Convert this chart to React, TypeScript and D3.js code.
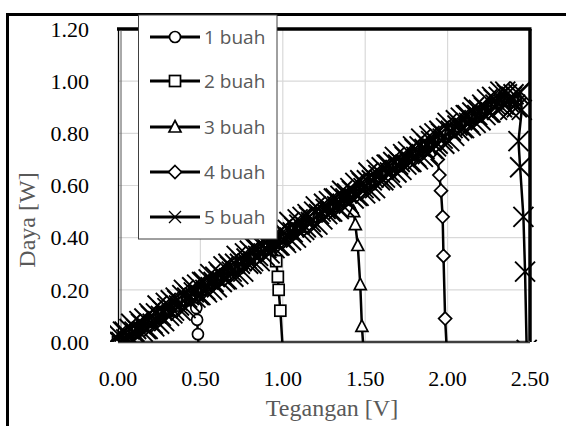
import React from "react";
import * as d3 from "d3";

const xTicks = [0, 0.5, 1.0, 1.5, 2.0, 2.5];
const yTicks = [0, 0.2, 0.4, 0.6, 0.8, 1.0, 1.2];
const seriesNames = ["1 buah", "2 buah", "3 buah", "4 buah", "5 buah"];
const markerTypes = ["circle", "square", "triangle", "diamond", "cross"];

const v1 = [0.00, 0.05, 0.10, 0.15, 0.20, 0.25, 0.30, 0.35, 0.40, 0.45, 0.47, 0.475, 0.48, 0.485, 0.49];
const p1 = [0.00, 0.02, 0.04, 0.06, 0.08, 0.10, 0.12, 0.14, 0.16, 0.18, 0.17, 0.13, 0.085, 0.03, -0.03];

const v2 = [0.00, 0.05, 0.10, 0.15, 0.20, 0.25, 0.30, 0.35, 0.40, 0.45, 0.50, 0.55, 0.60, 0.65, 0.70, 0.75, 0.80, 0.85, 0.90, 0.95, 0.96, 0.97, 0.975, 0.985, 1.00];
const p2 = [0.00, 0.02, 0.04, 0.06, 0.08, 0.10, 0.12, 0.14, 0.16, 0.18, 0.20, 0.22, 0.24, 0.26, 0.28, 0.30, 0.32, 0.34, 0.36, 0.38, 0.31, 0.25, 0.20, 0.12, -0.03];

const v3 = [0.00, 0.10, 0.20, 0.30, 0.40, 0.50, 0.60, 0.70, 0.80, 0.90, 1.00, 1.10, 1.20, 1.30, 1.40, 1.43, 1.44, 1.455, 1.47, 1.48, 1.49];
const p3 = [0.00, 0.04, 0.08, 0.12, 0.16, 0.20, 0.24, 0.28, 0.32, 0.36, 0.40, 0.44, 0.48, 0.52, 0.56, 0.50, 0.45, 0.37, 0.22, 0.06, -0.03];

const v4 = [0.00, 0.10, 0.20, 0.30, 0.40, 0.50, 0.60, 0.70, 0.80, 0.90, 1.00, 1.10, 1.20, 1.30, 1.40, 1.50, 1.60, 1.70, 1.80, 1.90, 1.94, 1.95, 1.96, 1.97, 1.975, 1.985, 1.995];
const p4 = [0.00, 0.04, 0.08, 0.12, 0.16, 0.20, 0.24, 0.28, 0.32, 0.36, 0.40, 0.44, 0.48, 0.52, 0.56, 0.60, 0.64, 0.68, 0.72, 0.76, 0.70, 0.64, 0.58, 0.48, 0.33, 0.09, -0.03];

const v5 = [
  0.00, 0.01, 0.02, 0.03, 0.04, 0.05, 0.06, 0.07, 0.08, 0.09,
  0.10, 0.11, 0.12, 0.13, 0.14, 0.15, 0.16, 0.17, 0.18, 0.19,
  0.20, 0.21, 0.22, 0.23, 0.24, 0.25, 0.26, 0.27, 0.28, 0.29,
  0.30, 0.31, 0.32, 0.33, 0.34, 0.35, 0.36, 0.37, 0.38, 0.39,
  0.40, 0.41, 0.42, 0.43, 0.44, 0.45, 0.46, 0.47, 0.48, 0.49,
  0.50, 0.51, 0.52, 0.53, 0.54, 0.55, 0.56, 0.57, 0.58, 0.59,
  0.60, 0.61, 0.62, 0.63, 0.64, 0.65, 0.66, 0.67, 0.68, 0.69,
  0.70, 0.71, 0.72, 0.73, 0.74, 0.75, 0.76, 0.77, 0.78, 0.79,
  0.80, 0.81, 0.82, 0.83, 0.84, 0.85, 0.86, 0.87, 0.88, 0.89,
  0.90, 0.91, 0.92, 0.93, 0.94, 0.95, 0.96, 0.97, 0.98, 0.99,
  1.00, 1.01, 1.02, 1.03, 1.04, 1.05, 1.06, 1.07, 1.08, 1.09,
  1.10, 1.11, 1.12, 1.13, 1.14, 1.15, 1.16, 1.17, 1.18, 1.19,
  1.20, 1.21, 1.22, 1.23, 1.24, 1.25, 1.26, 1.27, 1.28, 1.29,
  1.30, 1.31, 1.32, 1.33, 1.34, 1.35, 1.36, 1.37, 1.38, 1.39,
  1.40, 1.41, 1.42, 1.43, 1.44, 1.45, 1.46, 1.47, 1.48, 1.49,
  1.50, 1.51, 1.52, 1.53, 1.54, 1.55, 1.56, 1.57, 1.58, 1.59,
  1.60, 1.61, 1.62, 1.63, 1.64, 1.65, 1.66, 1.67, 1.68, 1.69,
  1.70, 1.71, 1.72, 1.73, 1.74, 1.75, 1.76, 1.77, 1.78, 1.79,
  1.80, 1.81, 1.82, 1.83, 1.84, 1.85, 1.86, 1.87, 1.88, 1.89,
  1.90, 1.91, 1.92, 1.93, 1.94, 1.95, 1.96, 1.97, 1.98, 1.99,
  2.00, 2.01, 2.02, 2.03, 2.04, 2.05, 2.06, 2.07, 2.08, 2.09,
  2.10, 2.11, 2.12, 2.13, 2.14, 2.15, 2.16, 2.17, 2.18, 2.19,
  2.20, 2.21, 2.22, 2.23, 2.24, 2.25, 2.26, 2.27, 2.28, 2.29,
  2.30, 2.31, 2.32, 2.33, 2.34, 2.35, 2.36, 2.37, 2.38, 2.39,
  2.40, 2.41, 2.42, 2.43, 2.44,
  2.45, 2.43, 2.44, 2.46, 2.47, 2.48,
];
const p5 = [
  0.03, 0.00, 0.00, 0.04, 0.04, 0.01, 0.00, 0.05, 0.07, 0.01,
  0.04, 0.05, 0.02, 0.08, 0.07, 0.04, 0.09, 0.05, 0.05, 0.11,
  0.10, 0.07, 0.06, 0.11, 0.14, 0.07, 0.10, 0.12, 0.08, 0.15,
  0.13, 0.10, 0.16, 0.11, 0.12, 0.17, 0.16, 0.14, 0.12, 0.18,
  0.20, 0.13, 0.17, 0.18, 0.15, 0.21, 0.19, 0.17, 0.22, 0.18,
  0.18, 0.23, 0.23, 0.20, 0.19, 0.24, 0.26, 0.20, 0.23, 0.25,
  0.21, 0.27, 0.26, 0.23, 0.29, 0.24, 0.24, 0.30, 0.29, 0.27,
  0.25, 0.30, 0.33, 0.26, 0.30, 0.31, 0.27, 0.34, 0.32, 0.30,
  0.35, 0.30, 0.31, 0.36, 0.36, 0.33, 0.31, 0.37, 0.39, 0.33,
  0.36, 0.37, 0.34, 0.40, 0.39, 0.36, 0.41, 0.37, 0.37, 0.43,
  0.42, 0.39, 0.38, 0.43, 0.46, 0.39, 0.42, 0.44, 0.40, 0.47,
  0.45, 0.42, 0.48, 0.43, 0.44, 0.49, 0.48, 0.46, 0.44, 0.50,
  0.52, 0.45, 0.49, 0.50, 0.47, 0.53, 0.51, 0.49, 0.54, 0.50,
  0.50, 0.55, 0.55, 0.52, 0.51, 0.56, 0.58, 0.52, 0.55, 0.57,
  0.53, 0.59, 0.58, 0.55, 0.61, 0.56, 0.56, 0.62, 0.61, 0.59,
  0.57, 0.62, 0.65, 0.58, 0.62, 0.63, 0.59, 0.66, 0.64, 0.62,
  0.67, 0.62, 0.63, 0.68, 0.68, 0.65, 0.63, 0.69, 0.71, 0.65,
  0.68, 0.69, 0.66, 0.72, 0.71, 0.68, 0.73, 0.69, 0.69, 0.75,
  0.74, 0.71, 0.70, 0.75, 0.78, 0.71, 0.74, 0.76, 0.72, 0.79,
  0.77, 0.74, 0.80, 0.75, 0.76, 0.81, 0.80, 0.78, 0.76, 0.82,
  0.84, 0.77, 0.81, 0.82, 0.79, 0.85, 0.83, 0.81, 0.86, 0.82,
  0.82, 0.87, 0.87, 0.84, 0.83, 0.88, 0.90, 0.84, 0.87, 0.89,
  0.85, 0.91, 0.90, 0.87, 0.93, 0.88, 0.88, 0.94, 0.93, 0.91,
  0.89, 0.94, 0.96, 0.90, 0.91, 0.96, 0.95, 0.92, 0.89, 0.94,
  0.95, 0.91, 0.90, 0.95, 0.96,
  0.89, 0.77, 0.67, 0.48, 0.27, -0.03,
];

const seriesV = [v1, v2, v3, v4, v5];
const seriesP = [p1, p2, p3, p4, p5];

const W = 566;
const H = 426;
const x = d3.scaleLinear().domain([0, 2.5]).range([118, 530]);
const y = d3.scaleLinear().domain([0, 1.2]).range([342, 29]);

const serif = "'Liberation Serif', 'Times New Roman', serif";

function Marker({ type, cx, cy }: { type: string; cx: number; cy: number }) {
  const common = { fill: "white", stroke: "black", strokeWidth: 1.7 };
  if (type === "circle") return <circle cx={cx} cy={cy} r={5.5} {...common} />;
  if (type === "square") return <rect x={cx - 5.5} y={cy - 5.5} width={11} height={11} {...common} />;
  if (type === "triangle")
    return <path d={`M${cx},${cy - 6.5}L${cx + 6},${cy + 5}L${cx - 6},${cy + 5}Z`} {...common} />;
  if (type === "diamond")
    return <path d={`M${cx},${cy - 6.5}L${cx + 6.5},${cy}L${cx},${cy + 6.5}L${cx - 6.5},${cy}Z`} {...common} />;
  return (
    <path
      d={`M${cx - 10},${cy - 10}L${cx + 10},${cy + 10}M${cx - 10},${cy + 10}L${cx + 10},${cy - 10}`}
      stroke="black"
      strokeWidth={1.9}
      fill="none"
    />
  );
}

function LegendMarker({ type, cx, cy }: { type: string; cx: number; cy: number }) {
  if (type === "cross")
    return (
      <path
        d={`M${cx - 6},${cy - 6}L${cx + 6},${cy + 6}M${cx - 6},${cy + 6}L${cx + 6},${cy - 6}`}
        stroke="black"
        strokeWidth={1.3}
        fill="none"
      />
    );
  return <Marker type={type} cx={cx} cy={cy} />;
}

export default function App() {
  const paths = seriesV.map(
    (vs, s) =>
      d3
        .line<number>()
        .x((v) => x(v))
        .y((_, i) => y(seriesP[s][i]))(vs) as string
  );
  const legendY = [37, 81, 127, 172, 217];
  return (
    <svg width={W} height={H} style={{ position: "absolute", left: 0, top: 0, background: "white" }}>
      <defs>
        <clipPath id="plotclip">
          <rect x={110} y={0} width={428} height={342} />
        </clipPath>
      </defs>
      <rect x={0} y={0} width={W} height={H} fill="white" />
      <rect x={7.5} y={14.5} width={700} height={600} fill="none" stroke="black" strokeWidth={3} />
      {yTicks.slice(1, -1).map((t) => (
        <line key={"gy" + t} x1={x(0)} x2={x(2.5)} y1={y(t)} y2={y(t)} stroke="#d9d9d9" strokeWidth={1.2} />
      ))}
      {xTicks.slice(1, -1).map((t) => (
        <line key={"gx" + t} x1={x(t)} x2={x(t)} y1={y(0)} y2={y(1.2)} stroke="#d9d9d9" strokeWidth={1.2} />
      ))}
      <line x1={x(0) - 1} x2={x(2.5) + 1.5} y1={y(1.2)} y2={y(1.2)} stroke="black" strokeWidth={3.5} />
      <line x1={x(2.5)} x2={x(2.5)} y1={y(1.2)} y2={y(0)} stroke="black" strokeWidth={3.5} />
      <line x1={x(0) + 0.5} x2={x(0) + 0.5} y1={y(1.2)} y2={y(0)} stroke="black" strokeWidth={1.3} />
      <line x1={x(0) + 3} x2={x(0) + 3} y1={y(1.2) + 1} y2={y(0)} stroke="#555" strokeWidth={1} />
      <line x1={x(0)} x2={x(2.5)} y1={y(0)} y2={y(0)} stroke="#404040" strokeWidth={2.5} />
      <g clipPath="url(#plotclip)">
        {seriesV.map((vs, s) => (
          <g key={"s" + s}>
            <path d={paths[s]} fill="none" stroke="black" strokeWidth={2.5} strokeLinejoin="round" />
            {vs.map((v, i) => (
              <Marker key={i} type={markerTypes[s]} cx={x(v)} cy={y(seriesP[s][i])} />
            ))}
          </g>
        ))}
      </g>
      {yTicks.map((t) => (
        <text key={"yl" + t} x={89} y={y(t)} dy="0.35em" textAnchor="end" fontFamily={serif} fontSize={22} fill="black">
          {t.toFixed(2)}
        </text>
      ))}
      {xTicks.map((t) => (
        <text key={"xl" + t} x={x(t)} y={386} textAnchor="middle" fontFamily={serif} fontSize={22} fill="black">
          {t.toFixed(2)}
        </text>
      ))}
      <text x={332} y={416} textAnchor="middle" fontFamily={serif} fontSize={24} fill="#595959">
        Tegangan [V]
      </text>
      <text transform={`translate(35, 220) rotate(-90)`} textAnchor="middle" fontFamily={serif} fontSize={24} fill="#595959">
        Daya [W]
      </text>
      <rect x={138.5} y={15} width={138.5} height={224} fill="white" stroke="#404040" strokeWidth={1} />
      {seriesNames.map((n, i) => (
        <g key={"lg" + i}>
          <line x1={150} x2={200} y1={legendY[i]} y2={legendY[i]} stroke="black" strokeWidth={2.8} />
          <LegendMarker type={markerTypes[i]} cx={175} cy={legendY[i]} />
          <text
            x={204}
            y={legendY[i]}
            dy="0.36em"
            fontFamily="'Open Sans', 'Liberation Sans', sans-serif"
            fontSize={19}
            fill="#595959"
          >
            {n}
          </text>
        </g>
      ))}
    </svg>
  );
}
